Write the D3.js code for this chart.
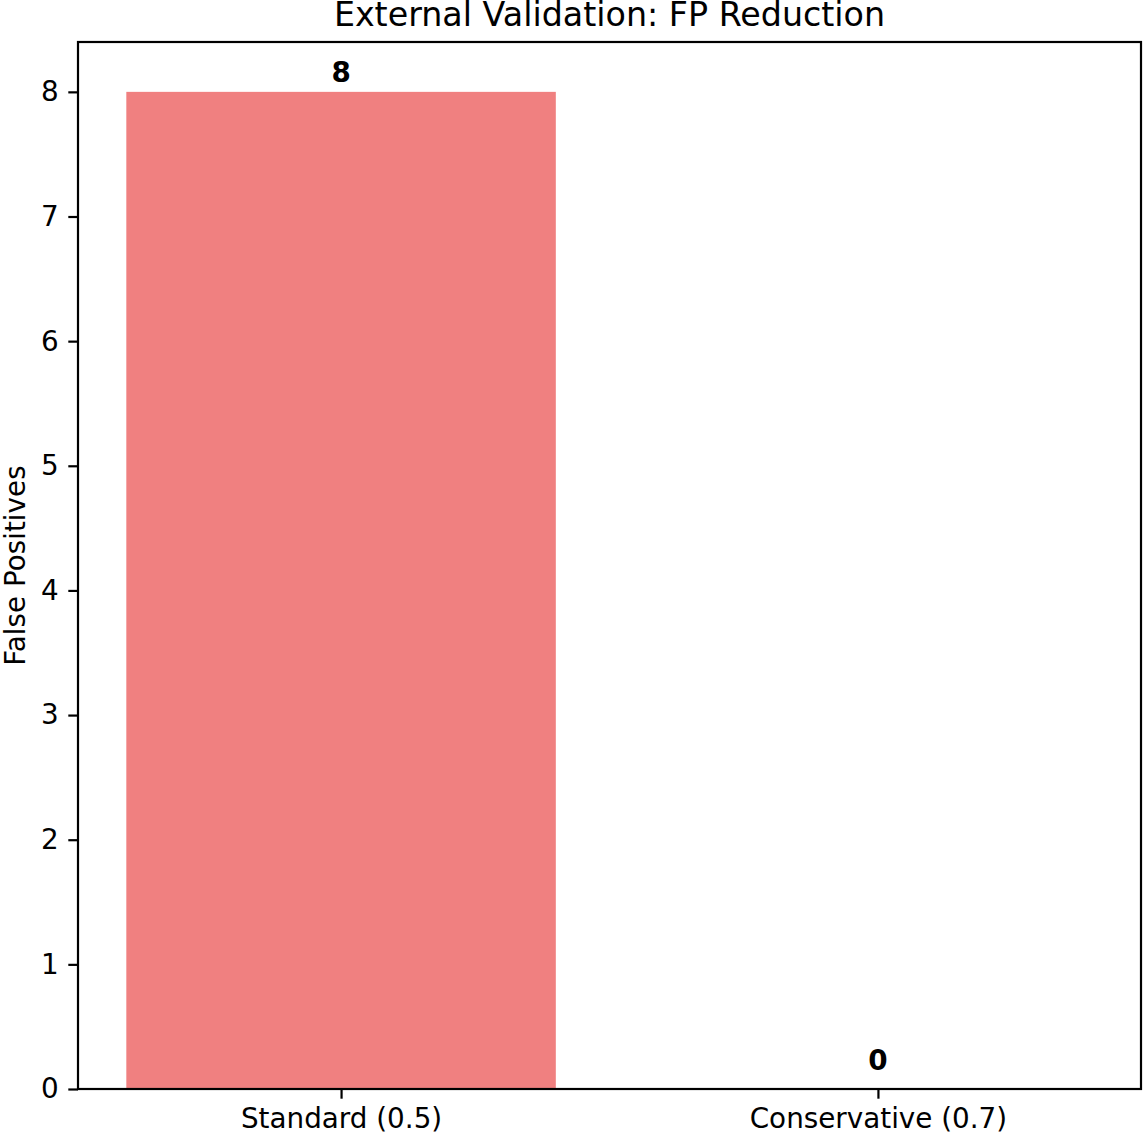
<!DOCTYPE html>
<html>
<head>
<meta charset="utf-8">
<script src="https://cdn.jsdelivr.net/npm/d3@7"></script>
<style>
  html, body { margin: 0; padding: 0; background: #fff; }
  svg { display: block; font-family: "DejaVu Sans", sans-serif; }
</style>
</head>
<body>
<svg id="chart" width="1144" height="1134"></svg>
<script>
const categories = ["Standard (0.5)", "Conservative (0.7)"];
const falsePositives = [8, 0];
const yTicks = [0, 1, 2, 3, 4, 5, 6, 7, 8];
const title = "External Validation: FP Reduction";
const yLabel = "False Positives";

const W = 1144, H = 1134;
const m = { left: 78, right: 3, top: 42, bottom: 45 };
const pw = W - m.left - m.right, ph = H - m.top - m.bottom;
const fs = 27.8, fsTitle = 33.3, tick = 9.7, lw = 2.2;
const svg = d3.select("#chart");
const g = svg.append("g").attr("transform", `translate(${m.left},${m.top})`);

const n = categories.length;
const barW = 0.8;
const pad = (n - 1 + barW) * 0.05;
const x = d3.scaleLinear().domain([-barW / 2 - pad, n - 1 + barW / 2 + pad]).range([0, pw]);
const y = d3.scaleLinear().domain([0, 8.4]).range([ph, 0]);

g.selectAll("rect.bar").data(falsePositives).join("rect")
  .attr("class", "bar")
  .attr("x", (d, i) => x(i - barW / 2))
  .attr("width", (d, i) => x(i + barW / 2) - x(i - barW / 2))
  .attr("y", d => y(d))
  .attr("height", d => y(0) - y(d))
  .attr("fill", "#f08080");

g.selectAll("text.val").data(falsePositives).join("text")
  .attr("class", "val")
  .attr("x", (d, i) => x(i))
  .attr("y", d => y(d) - (d > 0 ? 10 : 19))
  .attr("text-anchor", "middle")
  .attr("font-weight", "bold")
  .attr("font-size", fs)
  .text(d => d);

// axes
const yAxis = g.append("g").call(d3.axisLeft(y).tickValues(yTicks).tickSize(tick).tickPadding(tick).tickFormat(d3.format("d")));
const xAxis = g.append("g").attr("transform", `translate(0,${ph})`)
  .call(d3.axisBottom(x).tickValues(d3.range(n)).tickSize(tick).tickPadding(tick).tickFormat(i => categories[i]));
[yAxis, xAxis].forEach(a => {
  a.select(".domain").remove();
  a.selectAll(".tick line").attr("stroke", "#000").attr("stroke-width", lw);
  a.selectAll(".tick text").attr("font-size", fs).attr("fill", "#000").attr("font-family", "DejaVu Sans");
});

g.append("rect").attr("x", 0).attr("y", 0).attr("width", pw).attr("height", ph)
  .attr("fill", "none").attr("stroke", "#000").attr("stroke-width", lw);

svg.append("text").attr("x", m.left + pw / 2).attr("y", 26)
  .attr("text-anchor", "middle").attr("font-size", fsTitle).text(title);

svg.append("text").attr("transform", `translate(25,${m.top + ph / 2}) rotate(-90)`)
  .attr("text-anchor", "middle").attr("font-size", fs).text(yLabel);
</script>
</body>
</html>
